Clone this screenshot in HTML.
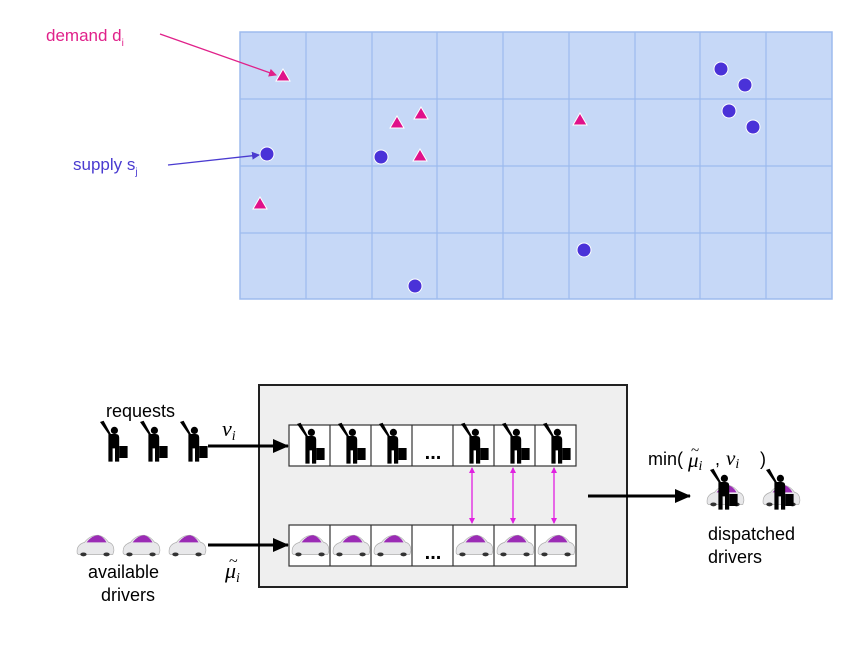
<!DOCTYPE html>
<html><head><meta charset="utf-8"><style>
body{margin:0;background:#fff;}
svg{display:block;font-family:"Liberation Sans",sans-serif;}
</style></head><body>
<svg width="847" height="654" viewBox="0 0 847 654" xmlns="http://www.w3.org/2000/svg">
<defs>
<g id="p0">
  <circle cx="2" cy="-13" r="3" fill="#000"/>
  <path d="M-10,-20 L-3,-10 L-3,13 L0.5,13 L0.5,2 L2.5,2 L2.5,13 L6,13 L6,-7 Q6,-10 3,-10 L-1,-10 L-7,-21 Z" fill="#000"/>
  <rect x="6" y="0" width="7" height="10" fill="#000"/>
</g>
<g id="p"><use href="#p0" transform="scale(1.2)"/></g>
<g id="c0">
  <path d="M-17,6 Q-18,-1 -10,-3 Q-5,-9 3,-9 Q9,-8 13,-3 Q18,-2 18,4 L17,7 L-16,7 Z" fill="#e8e8ea" stroke="#aaa" stroke-width="0.6"/>
  <path d="M-8,-3 Q-3,-9 3,-9 Q8,-8 11,-3 Z" fill="#9b2bb5"/>
  <ellipse cx="-11" cy="7" rx="3" ry="1.6" fill="#333"/>
  <ellipse cx="11" cy="7" rx="3" ry="1.6" fill="#333"/>
</g>
<g id="c"><use href="#c0" transform="scale(1.05,1.2)"/></g>
<marker id="ah" markerWidth="8" markerHeight="8" refX="7" refY="4" orient="auto" markerUnits="userSpaceOnUse"><path d="M0,0 L8,4 L0,8 Z" fill="#e0218a"/></marker>
<marker id="ab" markerWidth="8" markerHeight="8" refX="7" refY="4" orient="auto" markerUnits="userSpaceOnUse"><path d="M0,0 L8,4 L0,8 Z" fill="#4a3bd0"/></marker>
<marker id="ak" markerWidth="16" markerHeight="14" refX="15" refY="7" orient="auto" markerUnits="userSpaceOnUse"><path d="M0,0 L16,7 L0,14 Z" fill="#000"/></marker>
<marker id="am" markerWidth="6" markerHeight="6" refX="5" refY="3" orient="auto-start-reverse" markerUnits="userSpaceOnUse"><path d="M0,0 L6,3 L0,6 Z" fill="#e020e0"/></marker>
</defs>

<rect x="240" y="32" width="592" height="267" fill="#c6d8f7" stroke="#9dbbee" stroke-width="1.5"/>
<g stroke="#9dbbee" stroke-width="1.2">
<line x1="306" y1="32" x2="306" y2="299"/><line x1="372" y1="32" x2="372" y2="299"/>
<line x1="437" y1="32" x2="437" y2="299"/><line x1="503" y1="32" x2="503" y2="299"/>
<line x1="569" y1="32" x2="569" y2="299"/><line x1="635" y1="32" x2="635" y2="299"/>
<line x1="700" y1="32" x2="700" y2="299"/><line x1="766" y1="32" x2="766" y2="299"/>
<line x1="240" y1="99" x2="832" y2="99"/><line x1="240" y1="166" x2="832" y2="166"/>
<line x1="240" y1="233" x2="832" y2="233"/>
</g>
<g fill="#e0118a" stroke="#fff" stroke-width="1">
<path d="M283,69 L290,81 L276,81 Z"/><path d="M397,116 L404,128 L390,128 Z"/>
<path d="M421,107 L428,119 L414,119 Z"/><path d="M420,149 L427,161 L413,161 Z"/>
<path d="M580,113 L587,125 L573,125 Z"/><path d="M260,197 L267,209 L253,209 Z"/>
</g>
<g fill="#4a32d8" stroke="#fff" stroke-width="1">
<circle cx="267" cy="154" r="7"/><circle cx="381" cy="157" r="7"/>
<circle cx="721" cy="69" r="7"/><circle cx="745" cy="85" r="7"/>
<circle cx="729" cy="111" r="7"/><circle cx="753" cy="127" r="7"/>
<circle cx="584" cy="250" r="7"/><circle cx="415" cy="286" r="7"/>
</g>
<text x="46" y="41" font-size="17" fill="#e0218a">demand d<tspan font-size="10" dy="5">i</tspan></text>
<line x1="160" y1="34" x2="276" y2="75" stroke="#e0218a" stroke-width="1.3" marker-end="url(#ah)"/>
<text x="73" y="170" font-size="17" fill="#4a3bd0">supply s<tspan font-size="10" dy="5">j</tspan></text>
<line x1="168" y1="165" x2="259" y2="155" stroke="#4a3bd0" stroke-width="1.3" marker-end="url(#ab)"/>

<rect x="259" y="385" width="368" height="202" fill="#efefef" stroke="#222" stroke-width="2"/>
<g fill="#fff" stroke="#333" stroke-width="1.2">
<rect x="289" y="425" width="287" height="41"/><rect x="289" y="525" width="287" height="41"/>
</g>
<g stroke="#333" stroke-width="1.2">
<line x1="330" y1="425" x2="330" y2="466"/><line x1="371" y1="425" x2="371" y2="466"/><line x1="412" y1="425" x2="412" y2="466"/><line x1="453" y1="425" x2="453" y2="466"/><line x1="494" y1="425" x2="494" y2="466"/><line x1="535" y1="425" x2="535" y2="466"/>
<line x1="330" y1="525" x2="330" y2="566"/><line x1="371" y1="525" x2="371" y2="566"/><line x1="412" y1="525" x2="412" y2="566"/><line x1="453" y1="525" x2="453" y2="566"/><line x1="494" y1="525" x2="494" y2="566"/><line x1="535" y1="525" x2="535" y2="566"/>
</g>
<use href="#p" x="309" y="448"/><use href="#p" x="350" y="448"/><use href="#p" x="391" y="448"/>
<use href="#p" x="473" y="448"/><use href="#p" x="514" y="448"/><use href="#p" x="555" y="448"/>
<text x="433" y="459" font-size="20" text-anchor="middle" font-weight="bold">...</text>
<use href="#c" x="310" y="546"/><use href="#c" x="351" y="546"/><use href="#c" x="392" y="546"/>
<use href="#c" x="474" y="546"/><use href="#c" x="515" y="546"/><use href="#c" x="556" y="546"/>
<text x="433" y="559" font-size="20" text-anchor="middle" font-weight="bold">...</text>
<g stroke="#e020e0" stroke-width="1.3">
<line x1="472" y1="468" x2="472" y2="523" marker-start="url(#am)" marker-end="url(#am)"/>
<line x1="513" y1="468" x2="513" y2="523" marker-start="url(#am)" marker-end="url(#am)"/>
<line x1="554" y1="468" x2="554" y2="523" marker-start="url(#am)" marker-end="url(#am)"/>
</g>
<g stroke="#000" stroke-width="3">
<line x1="208" y1="446" x2="288" y2="446" marker-end="url(#ak)"/>
<line x1="208" y1="545" x2="288" y2="545" marker-end="url(#ak)"/>
<line x1="588" y1="496" x2="690" y2="496" marker-end="url(#ak)"/>
</g>
<text x="106" y="417" font-size="18">requests</text>
<use href="#p" x="112" y="446"/><use href="#p" x="152" y="446"/><use href="#p" x="192" y="446"/>
<text x="222" y="436" font-size="22" font-style="italic" font-family="Liberation Serif,serif">ν<tspan font-size="14" dy="4">i</tspan></text>
<use href="#c" x="95" y="546"/><use href="#c" x="141" y="546"/><use href="#c" x="187" y="546"/>
<text x="88" y="578" font-size="18">available</text>
<text x="101" y="601" font-size="18">drivers</text>
<text x="225" y="578" font-size="22" font-style="italic" font-family="Liberation Serif,serif">μ<tspan font-size="14" dy="4">i</tspan></text>
<text x="229" y="566" font-size="16" font-family="Liberation Serif,serif">~</text>
<text x="648" y="465" font-size="18">min(</text>
<text x="688" y="467" font-size="21" font-style="italic" font-family="Liberation Serif,serif">μ<tspan font-size="14" dy="3">i</tspan></text>
<text x="691" y="455" font-size="15" font-family="Liberation Serif,serif">~</text>
<text x="715" y="465" font-size="18">,</text>
<text x="726" y="465" font-size="21" font-style="italic" font-family="Liberation Serif,serif">ν<tspan font-size="14" dy="3">i</tspan></text>
<text x="760" y="465" font-size="18">)</text>
<use href="#c" x="725" y="496"/><use href="#p" x="722" y="494"/>
<use href="#c" x="781" y="496"/><use href="#p" x="778" y="494"/>
<text x="708" y="540" font-size="18">dispatched</text>
<text x="708" y="563" font-size="18">drivers</text>
</svg>
</body></html>
